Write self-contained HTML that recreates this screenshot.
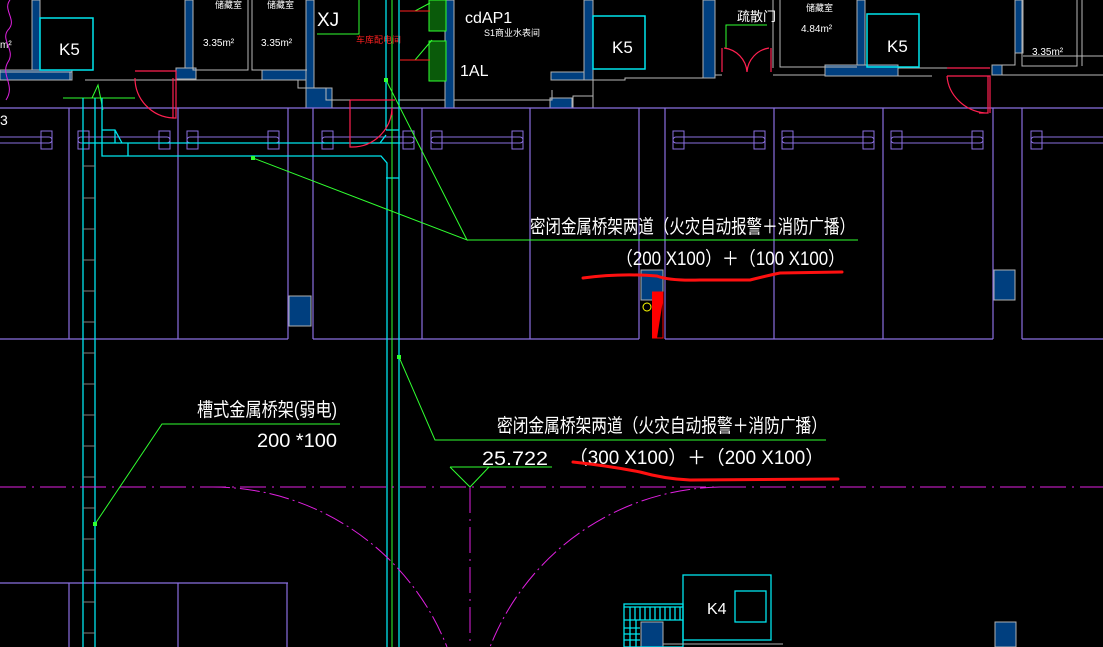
<!DOCTYPE html>
<html><head><meta charset="utf-8"><style>
html,body{margin:0;padding:0;background:#000;width:1103px;height:647px;overflow:hidden}
svg{display:block}
text{font-family:"Liberation Sans","Noto Sans CJK SC",sans-serif;fill:#fff}
</style></head><body>
<svg width="1103" height="647" viewBox="0 0 1103 647" xmlns="http://www.w3.org/2000/svg">
<rect width="1103" height="647" fill="#000"/>
<defs>
<g id="ws">
 <rect x="0" y="0" width="11" height="18" fill="none" stroke="#8a6fe0" stroke-width="1"/>
 <rect x="0" y="6" width="92" height="6" rx="3" fill="none" stroke="#8a6fe0" stroke-width="1"/>
 <rect x="81" y="0" width="11" height="18" fill="none" stroke="#8a6fe0" stroke-width="1"/>
</g>
</defs>

<!-- top walls -->
<g fill="#003f7f" stroke="#b0b0b0" stroke-width="1">
 <rect x="32" y="0" width="8" height="72"/>
 <rect x="0" y="70" width="72" height="10"/>
 <rect x="185" y="0" width="8" height="79"/>
 <rect x="176" y="68" width="20" height="11"/>
 <rect x="306" y="0" width="8" height="108"/>
 <rect x="262" y="70" width="44" height="10"/>
 <rect x="306" y="88" width="26" height="20"/>
 <rect x="445" y="0" width="9" height="108"/>
 <rect x="584" y="0" width="9" height="80"/>
 <rect x="551" y="72" width="33" height="8"/>
 <rect x="550" y="98" width="22" height="10"/>
 <rect x="703" y="0" width="12" height="78"/>
 <rect x="857" y="0" width="8" height="67"/>
 <rect x="825" y="65" width="73" height="11"/>
 <rect x="1015" y="0" width="8" height="53"/>
 <rect x="992" y="65" width="10" height="10"/>
</g>
<g fill="none" stroke="#b8b8b8" stroke-width="1">
 <path d="M0 72 H72 M0 80 H70 V72 M85 80 H210 M193 0 V70 H248 V0 M252 0 V70 H307 M210 80 H262 M176 80 H298 V88 H326 V100 H350"/>
 <path d="M398 100 H445 M454 100 H552 V90 M593 80 H625 V78 H703 M715 75 H722 M773 0 V68 M780 0 V67 H857 M773 75 H825 M898 68 H947 M898 76 H932 M1002 75 H1103 M1022 0 V66 H1077 V0 M1082 0 V66 M1002 65 H1015 V53 M1023 56 H1103"/>
 <path d="M593 80 V108 M573 108 V96 H593"/>
</g>

<!-- K5 boxes -->
<g fill="none" stroke="#00e5ee" stroke-width="1.5">
 <rect x="40" y="18" width="53" height="52"/>
 <rect x="593" y="16" width="52" height="53"/>
 <rect x="867" y="14" width="52" height="53"/>
</g>
<g font-size="17">
 <text x="59" y="55">K5</text>
 <text x="612" y="53">K5</text>
 <text x="887" y="52">K5</text>
 <text x="317" y="26" font-size="19">XJ</text>
 <text x="465" y="23" font-size="16">cdAP1</text>
 <text x="460" y="76" font-size="16">1AL</text>
 <text x="707" y="614" font-size="16">K4</text>
</g>
<g font-size="10">
 <text x="203" y="46">3.35m²</text>
 <text x="261" y="46">3.35m²</text>
 <text x="801" y="32">4.84m²</text>
 <text x="1032" y="55">3.35m²</text>
 <text x="0" y="48">m²</text>
 <text x="484" y="36" font-size="9">S1商业水表间</text>
 <text x="215" y="8" font-size="9">储藏室</text>
 <text x="267" y="8" font-size="9">储藏室</text>
 <text x="806" y="11" font-size="9">储藏室</text>
 <text x="737" y="21" font-size="13">疏散门</text>
 <text x="356" y="43" font-size="9" style="fill:#ff2020">车库配电间</text>
</g>
<text x="0" y="125" font-size="14">3</text>

<!-- green hatch columns -->
<g fill="#0a5a0a" stroke="#30ff30" stroke-width="1">
 <rect x="429" y="0" width="17" height="31"/>
 <rect x="429" y="41" width="17" height="40"/>
</g>
<g stroke="#30ff30" stroke-width="1" fill="none">
 <path d="M317 34 H359 V0 M415 11 L430 3 M415 60 L432 40 M726 48 V25 H767"/>
 <path d="M63 98 H135 M92 98 L98 85 L103 110"/>
</g>
<path d="M400 11 H430 M400 60 H430" stroke="#ff2020" stroke-width="1"/>

<!-- parking grid -->
<g stroke="#8a6fe0" stroke-width="1.2" fill="none">
 <path d="M0 108 H313 M313 108 H1103"/>
 <path d="M0 339 H288 M313 339 H639 M665 339 H993 M1022 339 H1103"/>
 <path d="M69 108 V339 M178 108 V339 M288 108 V339 M313 108 V339 M422 108 V339 M530 108 V339 M639 108 V339 M665 108 V339 M774 108 V339 M883 108 V339 M993 108 V339 M1022 108 V339"/>
 <path d="M0 583 H288 M69 583 V647 M178 583 V647 M287 583 V647"/>
</g>
<g>
 <use href="#ws" x="-40" y="131"/>
 <use href="#ws" x="78" y="131"/>
 <use href="#ws" x="187" y="131"/>
 <use href="#ws" x="322" y="131"/>
 <use href="#ws" x="431" y="131"/>
 <use href="#ws" x="673" y="131"/>
 <use href="#ws" x="782" y="131"/>
 <use href="#ws" x="891" y="131"/>
 <use href="#ws" x="1031" y="131"/>
</g>

<!-- blue columns -->
<g fill="#003f7f" stroke="#b0b0b0" stroke-width="1">
 <rect x="289" y="296" width="22" height="30"/>
 <rect x="641" y="270" width="22" height="30"/>
 <rect x="994" y="270" width="21" height="30"/>
 <rect x="995" y="622" width="21" height="25"/>
 <rect x="641" y="622" width="22" height="25"/>
</g>
<path d="M652 292 H663 V300 L657 338 H652 Z" fill="#ff0000"/>
<path d="M652 292 H663 V338 H652" fill="none" stroke="#ff0000"/>
<circle cx="647" cy="307" r="4" fill="none" stroke="#ffff00"/>

<!-- cyan trays -->
<g stroke="#00e5ee" stroke-width="1.3" fill="none">
 <path d="M83 98 V647 M95 98 V647"/>
 <path d="M102 98 V156 H381 L387 163 V647 M399 0 V647 M386 0 V130"/>
 <path d="M102 130 H115 L122 143 M83 143 H400 M115 130 V143 M128 143 V156"/>
 <path d="M386 130 H399 M386 178 H399 M380 143 L386 135"/>
</g>
<path d="M392 0 V647" stroke="#30ff30" stroke-width="1"/>
<g stroke="#808080" stroke-width="1">
 <path d="M83 166 H95 M83 198 H95 M83 229 H95 M83 260 H95 M83 291 H95 M83 322 H95 M83 353 H95 M83 384 H95 M83 415 H95 M83 446 H95 M83 477 H95 M83 508 H95 M83 539 H95 M83 570 H95 M83 602 H95 M83 633 H95"/>
</g>

<!-- red doors -->
<g stroke="#ff2050" stroke-width="1.2" fill="none">
 <path d="M135 71 H176 V118 H173 V78 M135 78 A40 40 0 0 0 173 118"/>
 <path d="M350 100 H395 M350 100 V147 H354 M352 147 A40 40 0 0 0 392 108 V115"/>
 <path d="M722 48 V72 M771 48 V72 M724 48 A26 26 0 0 1 747 72 M769 48 A26 26 0 0 0 747 72"/>
 <path d="M947 68 H990 M947 76 H990 V113 M988 76 V113 H979 M947 76 A43 40 0 0 0 985 113"/>
</g>
<path d="M10 0 C2 10 18 20 8 30 C0 40 16 50 8 62 C0 75 16 85 6 100" stroke="#e020e0" fill="none" stroke-width="1"/>

<!-- magenta center lines and arcs -->
<path d="M0 487 H1103" stroke="#e020e0" stroke-width="1" stroke-dasharray="26 6 2 6"/>
<path d="M470 487 V647" stroke="#e020e0" stroke-width="1" stroke-dasharray="26 6 2 6"/>
<path d="M210 487 A252 252 0 0 1 447 647" stroke="#e020e0" stroke-width="1" fill="none" stroke-dasharray="20 4 2 4"/>
<path d="M720 487 A252 252 0 0 0 490 647" stroke="#e020e0" stroke-width="1" fill="none" stroke-dasharray="20 4 2 4"/>

<!-- K4 / stairs -->
<g stroke="#00e5ee" stroke-width="1.3" fill="none">
 <rect x="683" y="575" width="88" height="65"/>
 <rect x="735" y="591" width="31" height="31"/>
 <rect x="624" y="604" width="59" height="43"/>
 <path d="M624 607 H683 M624 620 H683 M630 620 V647 M636 620 V647 M624 628 H640 M624 634 H640 M624 640 H640"/>
 <path d="M630 607 V620 M635 607 V620 M640 607 V620 M645 607 V620 M650 607 V620 M655 607 V620 M660 607 V620 M665 607 V620 M670 607 V620 M675 607 V620 M680 607 V620"/>
</g>
<path d="M663 644 H783" stroke="#b0b0b0"/>

<!-- leaders -->
<g stroke="#30ff30" stroke-width="1" fill="none">
 <path d="M253 158 L467 240 L386 80 M467 240 H858"/>
 <path d="M95 524 L162 424 H340"/>
 <path d="M399 357 L435 440 H826"/>
 <path d="M450 467 H552 M450 467 L470 487 L489 467"/>
</g>
<g fill="#30ff30"><rect x="251" y="156" width="4" height="4"/><rect x="384" y="78" width="4" height="4"/><rect x="93" y="522" width="4" height="4"/><rect x="397" y="355" width="4" height="4"/></g>

<!-- labels -->
<g font-size="19">
 <text x="530" y="233" textLength="325" lengthAdjust="spacingAndGlyphs">密闭金属桥架两道（火灾自动报警＋消防广播）</text>
 <text x="616" y="265" textLength="229" lengthAdjust="spacingAndGlyphs">（200 X100）＋（100 X100）</text>
 <text x="197" y="416" textLength="140" lengthAdjust="spacingAndGlyphs">槽式金属桥架(弱电)</text>
 <text x="257" y="447" textLength="80" lengthAdjust="spacingAndGlyphs">200 *100</text>
 <text x="497" y="432" textLength="330" lengthAdjust="spacingAndGlyphs">密闭金属桥架两道（火灾自动报警＋消防广播）</text>
 <text x="482" y="465" textLength="66" lengthAdjust="spacingAndGlyphs">25.722</text>
 <text x="569" y="464" textLength="255" lengthAdjust="spacingAndGlyphs">（300 X100）＋（200 X100）</text>
</g>

<!-- red marks -->
<g stroke="#ff1010" stroke-width="3" fill="none" stroke-linecap="round">
 <path d="M583 278 Q620 273 657 276 Q670 281 700 280 L750 280 Q770 275 780 273 L842 272"/>
 <path d="M573 462 Q610 466 640 472 Q665 479 690 480 L838 479"/>
</g>
</svg>
</body></html>
